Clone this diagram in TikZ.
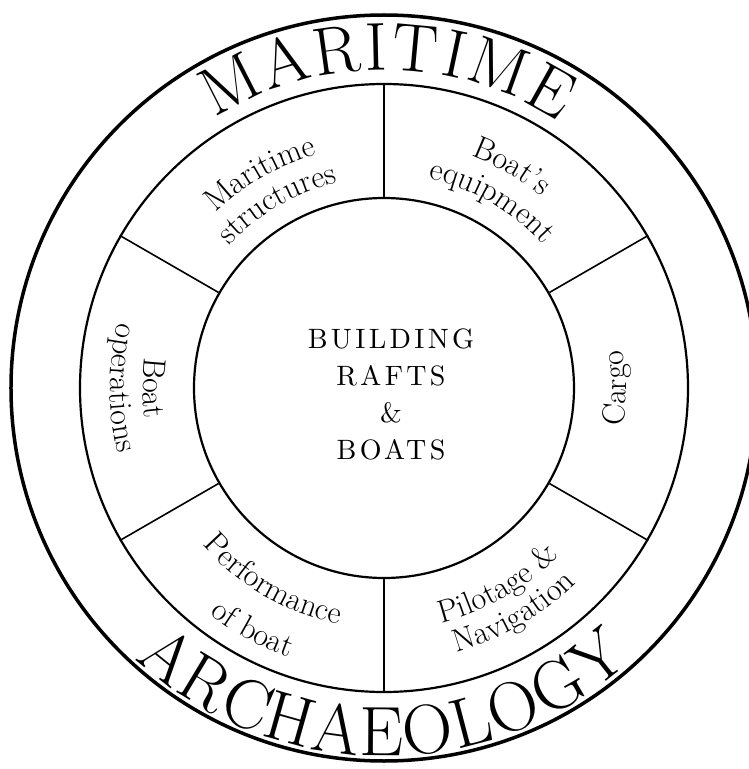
\documentclass[tikz,border=0pt]{standalone}
\usepackage{fontspec}
\newfontfamily\spacedface{lmroman10-regular.otf}[Ligatures = TeX, LetterSpace = 12]

\newcommand\sectorfont{\fontsize{32}{35}\selectfont}
\newcommand\rimfont{\fontsize{68}{68}\selectfont}
\newcommand\lowrimfont{\fontsize{70}{70}\selectfont}
\newcommand\hubfont{\spacedface\fontsize{28}{37}\selectfont}

\newdimen\glyphwd
\newdimen\runwd
\newdimen\arcpos

\tikzset{
	ring/.style = {circle, draw, line width = 2.2pt, inner sep = 0pt},
	spoke/.style = {line width = 1.6pt},
	arcletter/.style = {inner sep = 0pt, anchor = base},
}
% width of one glyph (the picture blanks its own fonts)
\newcommand\measureglyph[2]{\setbox0 = \hbox{\pgfinterruptpicture#1#2\endpgfinterruptpicture}\global\glyphwd = \wd0}
% text bent round the centre, one glyph at a time
% #1 font, #2 tracking, #3 middle angle, #4 radius, #5 +1 read under / -1 read over, #6 glyphs, #7 name
\newcommand\arclabel[7]{%
	\global\runwd = -#2
	\foreach \c in {#6} {\measureglyph{#1}{\c}\global\advance\runwd by \glyphwd \global\advance\runwd by #2}
	\global\arcpos = -0.5\runwd
	\foreach \c [count = \k] in {#6} {
			\measureglyph{#1}{\c}
			\pgfmathsetmacro\chang{#3 + #5 * (\arcpos + 0.5 * \glyphwd) / #4 * 180 / pi}
			\node[arcletter, font = #1, rotate = \chang + #5 * 90] (#7\k) at (\chang : #4) {\c};
			\global\advance\arcpos by \glyphwd \global\advance\arcpos by #2
		}
}
\newcommand\sectorlabel[5]{\arclabel{\sectorfont}{0pt}{#1}{#2}{#3}{#4}{#5}}

\begin{document}
\begin{tikzpicture}[x = 1pt, y = 1pt]
	\useasboundingbox (-384, -381) rectangle (365, 388);
	% the three rings
	\node[ring, minimum size = 380pt] (hub) at (0, 0) {};
	\node[ring, minimum size = 608pt] (band) at (0, 0) {};
	\node[ring, line width = 3.5pt, minimum size = 746pt] (rim) at (0, 0) {};
	\foreach \a in {30, 90, ..., 330} {
			\draw[spoke] (hub.\a) -- (band.\a);
		}
	\node[font = \hubfont, align = center] (title) at (7, -6.5) {BUILDING\\RAFTS\\\&\\BOATS};
	% sector labels
	\sectorlabel{120}{243}{-1}{M,a,r,i,t,i,m,e}{mar}
	\sectorlabel{120}{210}{-1}{s,t,r,u,c,t,u,r,e,s}{str}
	\sectorlabel{60}{248}{-1}{B,o,a,t,',s}{bts}
	\sectorlabel{60}{214}{-1}{e,q,u,i,p,m,e,n,t}{eqp}
	\sectorlabel{0}{242}{1}{C,a,r,g,o}{car}
	\sectorlabel{300}{242}{1}{P,i,l,o,t,a,g,e,\ ,\&}{pil}
	\sectorlabel{300}{274}{1}{N,a,v,i,g,a,t,i,o,n}{nav}
	\sectorlabel{240}{240}{1}{P,e,r,f,o,r,m,a,n,c,e}{prf}
	\sectorlabel{241.5}{286}{1}{o,f,\ ,b,o,a,t}{ofb}
	\sectorlabel{180}{241}{1}{B,o,a,t}{bop}
	\sectorlabel{180}{274}{1}{o,p,e,r,a,t,i,o,n,s}{ops}
	% lettering round the rim
	\arclabel{\rimfont}{3pt}{89.5}{318}{-1}{M,A,R,I,T,I,M,E}{top}
	\arclabel{\lowrimfont}{2pt}{269.7}{368}{1}{A,R,C,H,A,E,O,L,O,G,Y}{bottom}
\end{tikzpicture}
\end{document}
